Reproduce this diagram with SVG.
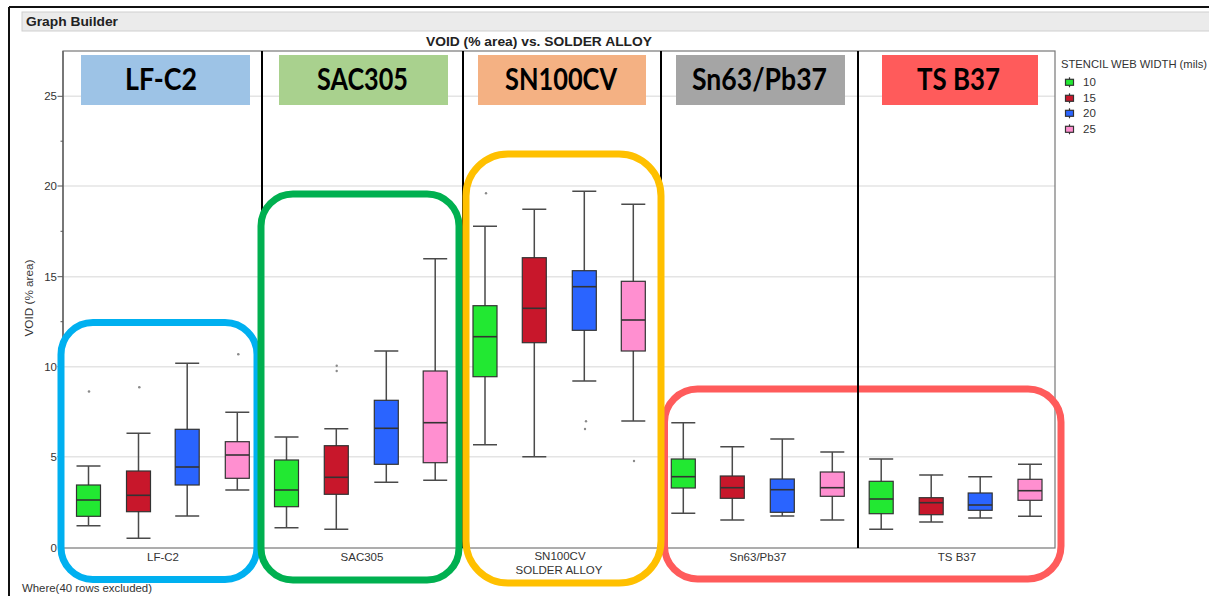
<svg xmlns="http://www.w3.org/2000/svg" width="1209" height="596" viewBox="0 0 1209 596">
<style>
  .sm { font-family: "Liberation Sans", Arial, sans-serif; font-size: 11.5px; fill: #333; }
  .tick { font-family: "Liberation Sans", Arial, sans-serif; font-size: 11.5px; fill: #333; text-anchor: end; }
  .cat { font-family: "Liberation Sans", Arial, sans-serif; font-size: 11.5px; fill: #333; text-anchor: middle; }
  .hdr { font-family: Lato, "Open Sans", sans-serif; font-weight: bold; font-size: 31px; fill: #000; text-anchor: middle; }
  .grid { stroke: #e4e4e4; stroke-width: 1.5; }
  .sep { stroke: #000; stroke-width: 2; }
  .wh { stroke: #4a4a4a; stroke-width: 1.5; fill: none; }
  .box { stroke: #333; stroke-width: 1.2; }
  .med { stroke: #333; stroke-width: 1.6; }
  .c10 { fill: #22E832; }
  .c15 { fill: #C8172B; }
  .c20 { fill: #2A64FF; }
  .c25 { fill: #FF8FD0; }
  .out { fill: #8a8a8a; }
  .ann { fill: none; stroke-width: 7; }
</style>
<defs>
  <g id="icon">
    <line x1="0" y1="-5" x2="0" y2="5" stroke="#333" stroke-width="1.2"/>
  </g>
</defs>
<rect x="0" y="0" width="1209" height="596" fill="#fff"/>

<!-- window frame -->
<g id="frame">
  <line x1="9" y1="7" x2="1209" y2="7" stroke="#111" stroke-width="2"/>
  <line x1="9" y1="7" x2="9" y2="596" stroke="#111" stroke-width="2"/>
  <rect x="22" y="12" width="1190" height="19" fill="#ebebeb" stroke="#cfcfcf" stroke-width="1"/>
  <text x="26" y="26" font-family="Liberation Sans, Arial, sans-serif" font-weight="bold" font-size="13" fill="#222" textLength="92" lengthAdjust="spacingAndGlyphs">Graph Builder</text>
  <text x="539" y="46" font-family="Liberation Sans, Arial, sans-serif" font-weight="bold" font-size="13" fill="#222" text-anchor="middle" textLength="226" lengthAdjust="spacingAndGlyphs">VOID (% area) vs. SOLDER ALLOY</text>
  <text x="22" y="592" class="sm" textLength="130" lengthAdjust="spacingAndGlyphs">Where(40 rows excluded)</text>
</g>

<!-- axes and grid -->
<g id="axes">
  <line class="grid" x1="63" y1="96.3" x2="1055" y2="96.3"/>
  <line class="grid" x1="63" y1="186" x2="1055" y2="186"/>
  <line class="grid" x1="63" y1="276.7" x2="1055" y2="276.7"/>
  <line class="grid" x1="63" y1="366.7" x2="1055" y2="366.7"/>
  <line class="grid" x1="63" y1="456.7" x2="1055" y2="456.7"/>
  <rect x="63" y="51" width="992" height="497" fill="none" stroke="#777" stroke-width="1.2"/>
  <line x1="63" y1="51" x2="63" y2="548" stroke="#666" stroke-width="1.5"/>
  <g stroke="#555" stroke-width="1">
    <line x1="57.5" y1="96.3" x2="63" y2="96.3"/>
    <line x1="57.5" y1="186" x2="63" y2="186"/>
    <line x1="57.5" y1="276.7" x2="63" y2="276.7"/>
    <line x1="57.5" y1="366.7" x2="63" y2="366.7"/>
    <line x1="57.5" y1="456.7" x2="63" y2="456.7"/>
    <line x1="60.5" y1="141.2" x2="63" y2="141.2"/>
    <line x1="60.5" y1="231.3" x2="63" y2="231.3"/>
    <line x1="60.5" y1="321.7" x2="63" y2="321.7"/>
    <line x1="60.5" y1="411.7" x2="63" y2="411.7"/>
    <line x1="60.5" y1="502.3" x2="63" y2="502.3"/>
  </g>
  <text class="tick" x="57" y="100.3">25</text>
  <text class="tick" x="57" y="190">20</text>
  <text class="tick" x="57" y="280.7">15</text>
  <text class="tick" x="57" y="370.7">10</text>
  <text class="tick" x="57" y="460.7">5</text>
  <text class="tick" x="57" y="552">0</text>
  <text class="sm" x="0" y="0" text-anchor="middle" transform="translate(33,298) rotate(-90)" textLength="77" lengthAdjust="spacingAndGlyphs">VOID (% area)</text>
  <text class="cat" x="163" y="561">LF-C2</text>
  <text class="cat" x="362" y="561">SAC305</text>
  <text class="cat" x="560" y="560">SN100CV</text>
  <text class="cat" x="559" y="574">SOLDER ALLOY</text>
  <text class="cat" x="758" y="561">Sn63/Pb37</text>
  <text class="cat" x="957" y="561">TS B37</text>
</g>

<!-- panel separators -->
<g id="separators">
  <line class="sep" x1="262" y1="51" x2="262" y2="548"/>
  <line class="sep" x1="463" y1="51" x2="463" y2="548"/>
  <line class="sep" x1="661" y1="51" x2="661" y2="548"/>
</g>

<!-- panel headers -->
<g id="hdr-lfc2">
  <rect x="81" y="55" width="169" height="50" fill="#9DC3E6"/>
  <text class="hdr" x="161" y="90" textLength="72" lengthAdjust="spacingAndGlyphs">LF-C2</text>
</g>
<g id="hdr-sac305">
  <rect x="279" y="55" width="169" height="50" fill="#A9D18E"/>
  <text class="hdr" x="362.5" y="90" textLength="91" lengthAdjust="spacingAndGlyphs">SAC305</text>
</g>
<g id="hdr-sn100cv">
  <rect x="478" y="55" width="168" height="50" fill="#F4B183"/>
  <text class="hdr" x="561" y="90" textLength="112" lengthAdjust="spacingAndGlyphs">SN100CV</text>
</g>
<g id="hdr-sn63">
  <rect x="676" y="55" width="169" height="50" fill="#A5A5A5"/>
  <text class="hdr" x="759.5" y="90" textLength="135" lengthAdjust="spacingAndGlyphs">Sn63/Pb37</text>
</g>
<g id="hdr-tsb37">
  <rect x="882" y="55" width="156" height="50" fill="#FF5B5B"/>
  <text class="hdr" x="958.5" y="90" textLength="83" lengthAdjust="spacingAndGlyphs">TS B37</text>
</g>

<!-- legend -->
<g id="legend">
  <text class="sm" x="1061" y="68" textLength="146" lengthAdjust="spacingAndGlyphs">STENCIL WEB WIDTH (mils)</text>
  <use href="#icon" x="1069.5" y="82.3"/><rect class="box c10" x="1065.5" y="79.3" width="8" height="6"/>
  <use href="#icon" x="1069.5" y="98.3"/><rect class="box c15" x="1065.5" y="95.3" width="8" height="6"/>
  <use href="#icon" x="1069.5" y="113.3"/><rect class="box c20" x="1065.5" y="110.3" width="8" height="6"/>
  <use href="#icon" x="1069.5" y="129.3"/><rect class="box c25" x="1065.5" y="126.3" width="8" height="6"/>
  <text class="sm" x="1083" y="86.3">10</text>
  <text class="sm" x="1083" y="102.3">15</text>
  <text class="sm" x="1083" y="117.3">20</text>
  <text class="sm" x="1083" y="133.3">25</text>
</g>

<!-- LF-C2 boxes -->
<g id="box-lfc2">
  <path class="wh" d="M88.5 466V525.7M76.5 466H100.5M76.5 525.7H100.5"/>
  <rect class="box c10" x="76.5" y="485" width="24" height="31.3"/><line class="med" x1="76.5" y1="500" x2="100.5" y2="500"/>
  <path class="wh" d="M138.5 433.3V538.3M126.5 433.3H150.5M126.5 538.3H150.5"/>
  <rect class="box c15" x="126.5" y="471" width="24" height="40.7"/><line class="med" x1="126.5" y1="495.3" x2="150.5" y2="495.3"/>
  <path class="wh" d="M187.2 363.3V516M175.2 363.3H199.2M175.2 516H199.2"/>
  <rect class="box c20" x="175.2" y="429.3" width="24" height="55.7"/><line class="med" x1="175.2" y1="467" x2="199.2" y2="467"/>
  <path class="wh" d="M237.3 412.3V490M225.3 412.3H249.3M225.3 490H249.3"/>
  <rect class="box c25" x="225.3" y="441.7" width="24" height="36.6"/><line class="med" x1="225.3" y1="455" x2="249.3" y2="455"/>
  <circle class="out" cx="89" cy="391.5" r="1.3"/>
  <circle class="out" cx="139.3" cy="387.3" r="1.3"/>
  <circle class="out" cx="238.3" cy="354.3" r="1.3"/>
</g>

<!-- SAC305 boxes -->
<g id="box-sac305">
  <path class="wh" d="M286.5 437V527.7M274.5 437H298.5M274.5 527.7H298.5"/>
  <rect class="box c10" x="274.5" y="460" width="24" height="46.7"/><line class="med" x1="274.5" y1="490" x2="298.5" y2="490"/>
  <path class="wh" d="M336.3 428.7V529.3M324.3 428.7H348.3M324.3 529.3H348.3"/>
  <rect class="box c15" x="324.3" y="445.7" width="24" height="48.6"/><line class="med" x1="324.3" y1="477.3" x2="348.3" y2="477.3"/>
  <path class="wh" d="M386.3 351V482.3M374.3 351H398.3M374.3 482.3H398.3"/>
  <rect class="box c20" x="374.3" y="400.3" width="24" height="64"/><line class="med" x1="374.3" y1="428.3" x2="398.3" y2="428.3"/>
  <path class="wh" d="M435.2 258.7V480.3M423.2 258.7H447.2M423.2 480.3H447.2"/>
  <rect class="box c25" x="423.2" y="371" width="24" height="91.7"/><line class="med" x1="423.2" y1="422.7" x2="447.2" y2="422.7"/>
  <circle class="out" cx="336.7" cy="365.7" r="1.2"/>
  <circle class="out" cx="336.7" cy="371" r="1.2"/>
</g>

<!-- SN100CV boxes -->
<g id="box-sn100cv">
  <path class="wh" d="M485 226.3V444.7M473 226.3H497M473 444.7H497"/>
  <rect class="box c10" x="473" y="305.7" width="24" height="71"/><line class="med" x1="473" y1="336.7" x2="497" y2="336.7"/>
  <path class="wh" d="M534.3 209.3V456.7M522.3 209.3H546.3M522.3 456.7H546.3"/>
  <rect class="box c15" x="522.3" y="257.7" width="24" height="85"/><line class="med" x1="522.3" y1="308.3" x2="546.3" y2="308.3"/>
  <path class="wh" d="M584.3 191.3V381M572.3 191.3H596.3M572.3 381H596.3"/>
  <rect class="box c20" x="572.3" y="270.7" width="24" height="59.6"/><line class="med" x1="572.3" y1="286.7" x2="596.3" y2="286.7"/>
  <path class="wh" d="M633.3 204.3V421M621.3 204.3H645.3M621.3 421H645.3"/>
  <rect class="box c25" x="621.3" y="281.3" width="24" height="69.7"/><line class="med" x1="621.3" y1="320" x2="645.3" y2="320"/>
  <circle class="out" cx="486" cy="193.3" r="1.2"/>
  <circle class="out" cx="586" cy="421.3" r="1.2"/>
  <circle class="out" cx="585" cy="429" r="1.2"/>
  <circle class="out" cx="634" cy="461" r="1.2"/>
</g>

<!-- Sn63/Pb37 boxes -->
<g id="box-sn63">
  <path class="wh" d="M683.3 422.7V513.3M671.3 422.7H695.3M671.3 513.3H695.3"/>
  <rect class="box c10" x="671.3" y="459" width="24" height="29"/><line class="med" x1="671.3" y1="476.7" x2="695.3" y2="476.7"/>
  <path class="wh" d="M732.3 446.7V520M720.3 446.7H744.3M720.3 520H744.3"/>
  <rect class="box c15" x="720.3" y="476" width="24" height="22.3"/><line class="med" x1="720.3" y1="487.7" x2="744.3" y2="487.7"/>
  <path class="wh" d="M782.3 439V516M770.3 439H794.3M770.3 516H794.3"/>
  <rect class="box c20" x="770.3" y="479" width="24" height="33.3"/><line class="med" x1="770.3" y1="489.7" x2="794.3" y2="489.7"/>
  <path class="wh" d="M832.3 452V520M820.3 452H844.3M820.3 520H844.3"/>
  <rect class="box c25" x="820.3" y="472" width="24" height="24.3"/><line class="med" x1="820.3" y1="487.7" x2="844.3" y2="487.7"/>
</g>

<!-- TS B37 boxes -->
<g id="box-tsb37">
  <path class="wh" d="M881.2 459V529.3M869.2 459H893.2M869.2 529.3H893.2"/>
  <rect class="box c10" x="869.2" y="481.3" width="24" height="32.4"/><line class="med" x1="869.2" y1="499" x2="893.2" y2="499"/>
  <path class="wh" d="M931.2 475V522M919.2 475H943.2M919.2 522H943.2"/>
  <rect class="box c15" x="919.2" y="497.7" width="24" height="17"/><line class="med" x1="919.2" y1="502.7" x2="943.2" y2="502.7"/>
  <path class="wh" d="M980.2 476.7V518M968.2 476.7H992.2M968.2 518H992.2"/>
  <rect class="box c20" x="968.2" y="493" width="24" height="17.3"/><line class="med" x1="968.2" y1="505" x2="992.2" y2="505"/>
  <path class="wh" d="M1030 464.3V516.3M1018 464.3H1042M1018 516.3H1042"/>
  <rect class="box c25" x="1018" y="479.3" width="24" height="21"/><line class="med" x1="1018" y1="490.7" x2="1042" y2="490.7"/>
</g>

<!-- highlight outlines -->
<g id="highlights">
  <rect id="hl-lfc2" class="ann" x="61" y="322.5" width="196" height="257" rx="32" stroke="#00B0F0"/>
  <rect id="hl-sac305" class="ann" x="261" y="194" width="198" height="386" rx="32" stroke="#00B050"/>
  <rect id="hl-sn" class="ann" x="664.5" y="389" width="396.5" height="190" rx="33" stroke="#FF5B5B"/>
  <rect id="hl-sn100cv" class="ann" x="466" y="154" width="195" height="429" rx="42" stroke="#FFC000" stroke-width="7.5"/>
</g>
<line class="sep" x1="858" y1="51" x2="858" y2="548"/>
</svg>
